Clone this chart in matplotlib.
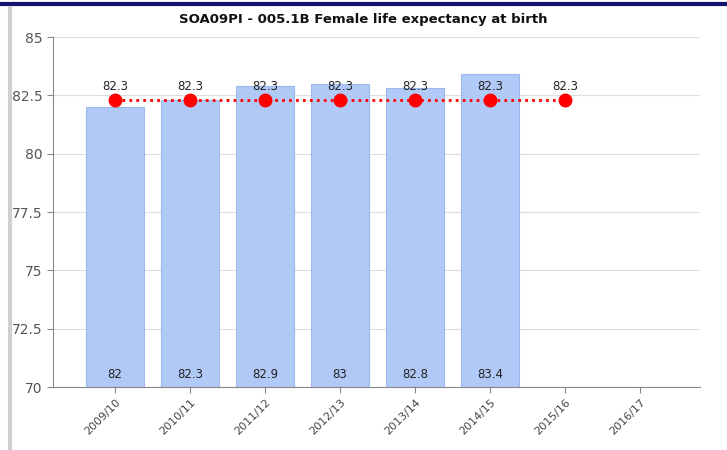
import numpy as np
import matplotlib.pyplot as plt
from matplotlib.lines import Line2D

periods = ['2009/10', '2010/11', '2011/12', '2012/13', '2013/14', '2014/15', '2015/16', '2016/17']
bar_values = [82.0, 82.3, 82.9, 83.0, 82.8, 83.4]
line_values = [82.3, 82.3, 82.3, 82.3, 82.3, 82.3, 82.3]

fig = plt.figure(figsize=(7.27, 4.5), dpi=100)
ax = fig.add_axes([53/727, 63/450, 647/727, 350/450])

x = np.arange(len(periods))
xb = x[:len(bar_values)]
bars = ax.bar(xb, np.array(bar_values) - 70, 0.77, bottom=70,
              color='#b0c9f6', edgecolor='#9cb8ee', linewidth=0.8, zorder=2)

xl = x[:len(line_values)]
ax.plot(xl, line_values, color='red', linestyle=(0, (1, 1.5)), linewidth=2,
        marker='o', markersize=9, zorder=4)

# bar value labels at the bottom of each bar
for xi, v in zip(xb, bar_values):
    ax.text(xi, 70.25, '%g' % v, ha='center', va='bottom', fontsize=8.5, color='#222222', zorder=5)

# line value labels above markers
for xi, v in zip(xl, line_values):
    ax.text(xi, 82.6, '%g' % v, ha='center', va='bottom', fontsize=8.5, color='#222222', zorder=5)

ax.set_ylim(70, 85)
ax.set_xlim(-0.827, 7.8)
ax.set_yticks([70, 72.5, 75, 77.5, 80, 82.5, 85])
ax.set_yticklabels(['70', '72.5', '75', '77.5', '80', '82.5', '85'])
ax.set_xticks(x)
ax.set_xticklabels(periods, rotation=45, ha='right', rotation_mode='anchor')
ax.tick_params(axis='y', colors='#555555', labelsize=10, length=4, color='#888888')
ax.tick_params(axis='x', colors='#444444', labelsize=8, length=4, color='#888888')
ax.yaxis.grid(True, color='#dddddd', linewidth=0.8, zorder=0)
ax.set_axisbelow(True)
for s in ['top', 'right']:
    ax.spines[s].set_visible(False)
for s in ['left', 'bottom']:
    ax.spines[s].set_color('#888888')

fig.text(0.5, 1 - 19/450, 'SOA09PI - 005.1B Female life expectancy at birth', fontsize=9.5,
         fontweight='bold', color='#111111', ha='center', va='center')

# frame decorations
fig.add_artist(Line2D([0, 1], [1 - 4/450, 1 - 4/450], color='#14146e', linewidth=3))
fig.add_artist(Line2D([10/727, 10/727], [0, 1 - 8/450], color='#d0d0d0', linewidth=3))

fig.savefig('out.png', dpi=100)
